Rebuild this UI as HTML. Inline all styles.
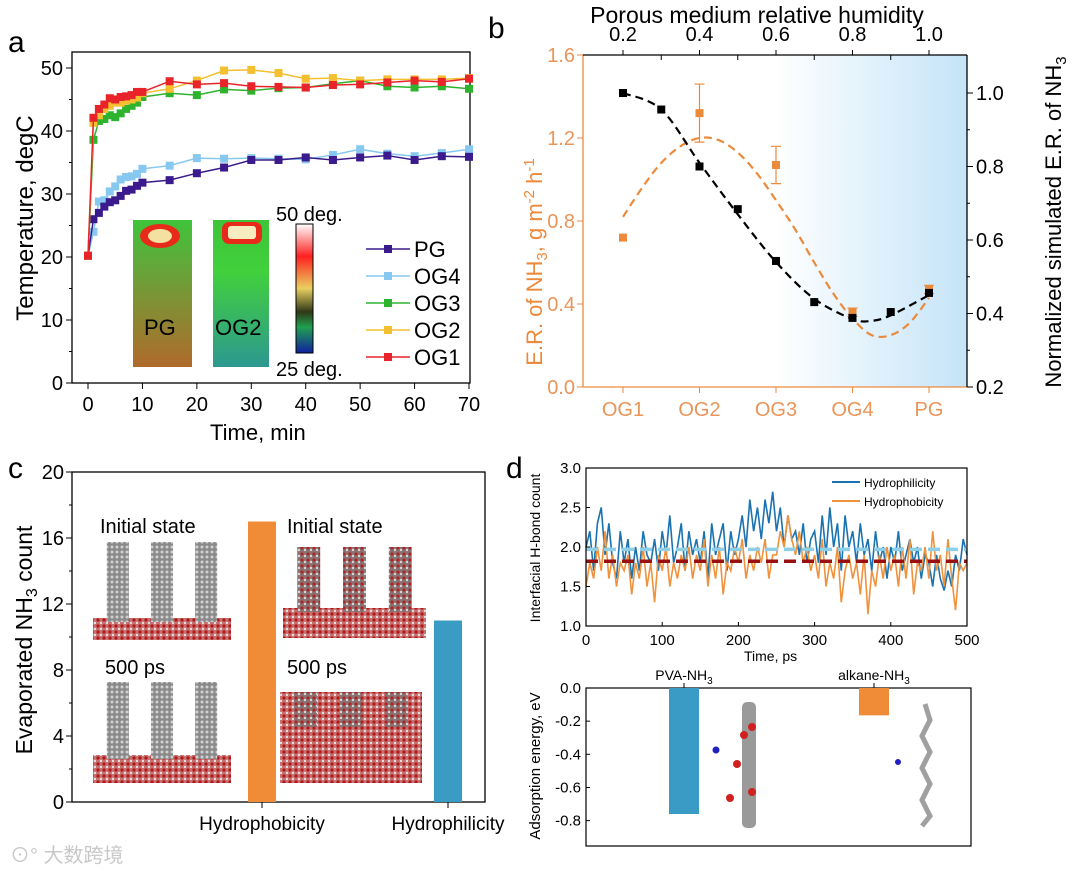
<!DOCTYPE html>
<html><head><meta charset="utf-8">
<style>
html,body{margin:0;padding:0;background:#fff;}
svg{display:block;font-family:"Liberation Sans","Noto Sans CJK SC",sans-serif;}
</style></head>
<body>
<svg id="fig" width="1080" height="874" viewBox="0 0 1080 874" xmlns="http://www.w3.org/2000/svg">
<defs>
<linearGradient id="bgB" x1="0" x2="1" y1="0" y2="0"><stop offset="0.5" stop-color="#ffffff"/><stop offset="1" stop-color="#c4e4f8"/></linearGradient>
<linearGradient id="pgImg" x1="0" x2="0" y1="0" y2="1"><stop offset="0" stop-color="#3ec43a"/><stop offset="0.3" stop-color="#62a83a"/><stop offset="1" stop-color="#b06a2c"/></linearGradient>
<linearGradient id="og2Img" x1="0" x2="0" y1="0" y2="1"><stop offset="0" stop-color="#3ec43a"/><stop offset="0.35" stop-color="#42d03c"/><stop offset="1" stop-color="#2c9890"/></linearGradient>
<linearGradient id="cbar" x1="0" x2="0" y1="0" y2="1"><stop offset="0" stop-color="#ffffff"/><stop offset="0.25" stop-color="#ff2020"/><stop offset="0.5" stop-color="#e8d060"/><stop offset="0.68" stop-color="#303818"/><stop offset="0.8" stop-color="#20a050"/><stop offset="1" stop-color="#1020a0"/></linearGradient>
<pattern id="mol" width="6" height="6" patternUnits="userSpaceOnUse"><rect width="6" height="6" fill="#c87070"/><circle cx="2" cy="2" r="1.6" fill="#b01818"/><circle cx="5" cy="5" r="1.2" fill="#e0e0e0"/></pattern>
<pattern id="gray" width="5" height="5" patternUnits="userSpaceOnUse"><rect width="5" height="5" fill="#8a8a8a"/><circle cx="2" cy="2" r="1.5" fill="#d0d0d0"/></pattern>
<pattern id="mix" width="6" height="6" patternUnits="userSpaceOnUse"><rect width="6" height="6" fill="#8a7070"/><circle cx="2" cy="2" r="1.5" fill="#b02020"/><circle cx="5" cy="4" r="1.2" fill="#d8d8d8"/></pattern>
</defs>
<g id="root"></g>
</svg>
<script>
// ---------- Panel a data ----------
const aTimes=[0,1,2,3,4,5,6,7,8,9,10,15,20,25,30,35,40,45,50,55,60,65,70];
const aPG=[20.2,26,27,28,28.7,29,29.7,30.5,30.7,31.3,31.8,32.2,33.3,34.2,35.4,35.4,35.8,35.4,35.8,36.1,35.4,36,35.9];
const aOG4=[20.2,24,28.8,29,30.4,31.2,32.3,32.7,32.8,33.2,34,34.5,35.7,35.6,35.7,35.6,35.5,36.2,37.1,36.4,36,36.5,37.1];
const aOG3=[20.2,38.6,41.6,41.9,42.5,42.2,42.8,43.5,44,44.5,45.4,46,45.7,46.6,46.4,46.8,46.9,47.5,48,47.1,46.9,47.1,46.7];
const aOG2=[20.2,41.3,42.5,43.5,44,44.5,44.5,44.8,45,45.3,46,46.7,48,49.6,49.7,49.2,48.3,48.4,48,48.2,48.2,48.2,48.4];
const aOG1=[20.2,42.1,43.5,44.2,45.2,45,45.4,45.5,45.7,46.2,46.2,47.9,47.4,47.6,47.1,47,46.9,47.3,47.4,47.7,48,47.8,48.3];
const aYTicks=[0,10,20,30,40,50];
const aXTicks=[0,10,20,30,40,50,60,70];
// ---------- Panel b data ----------
const bCats=["OG1","OG2","OG3","OG4","PG"];
const bER=[0.72,1.32,1.07,0.36,0.47];
const bErr=[0,0.14,0.09,0.02,0.02];
const bRH=[0.2,0.3,0.4,0.5,0.6,0.7,0.8,0.9,1.0];
const bSim=[1.0,0.955,0.80,0.684,0.543,0.431,0.388,0.404,0.456];
const bFitX=[0.2,0.25,0.3,0.35,0.4,0.45,0.5,0.55,0.6,0.65,0.7,0.75,0.8,0.85,0.9,0.95,1.0];
const bFitER=[0.82,0.96,1.08,1.16,1.2,1.19,1.13,1.03,0.9,0.76,0.6,0.45,0.33,0.25,0.25,0.31,0.43];
const bFitSimX=[0.2,0.3,0.4,0.5,0.6,0.7,0.8,0.85,0.9,1.0];
const bFitSim=[1.0,0.955,0.81,0.67,0.54,0.44,0.385,0.38,0.395,0.45];
const bLeftTicks=[0,0.4,0.8,1.2,1.6];
const bRightTicks=[0.2,0.4,0.6,0.8,1.0];
const bTopTicks=[0.2,0.4,0.6,0.8,1.0];
// ---------- Panel c data ----------
const cCats=["Hydrophobicity","Hydrophilicity"];
const cVals=[17,11];
const cTicks=[0,4,8,12,16,20];
// ---------- Panel d data ----------
const dPhil=[2.0,2.2,1.7,2.3,2.5,1.9,2.3,1.8,1.6,2.2, 1.8,2.1,1.6,2.0,1.7,2.2,1.9,1.8,2.1,1.7, 2.2,1.9,2.4,1.8,2.0,2.3,1.7,2.2,1.9,2.1, 1.8,2.2,1.6,2.3,1.9,2.1,2.3,1.7,2.2,1.9, 2.1,2.4,2.0,2.6,2.2,2.5,2.1,2.6,2.3,2.7, 2.2,2.5,2.0,2.4,2.1,2.2,1.9,2.3,1.8,2.1, 2.2,1.8,2.4,1.9,2.5,2.0,2.3,1.7,2.4,2.0, 2.2,1.8,2.3,1.9,2.1,1.7,2.2,1.8,2.0,1.6, 2.0,1.8,2.2,1.7,1.9,2.1,1.8,2.0,1.6,1.9, 1.8,1.5,1.9,1.6,1.45,1.7,1.5,1.9,1.7,2.1, 1.9];
const dPhob=[1.5,1.8,1.6,2.0,1.7,2.2,1.6,1.9,1.5,1.8, 1.7,1.9,1.4,1.8,1.6,2.0,1.5,1.8,1.3,1.9, 1.7,2.0,1.5,1.8,1.6,1.9,1.7,2.0,1.6,1.9, 1.7,2.1,1.5,1.9,1.6,2.0,1.4,1.8,1.7,2.0, 1.8,2.1,1.6,1.9,1.7,2.0,1.8,2.1,1.6,1.9, 1.9,2.2,2.0,2.4,2.1,1.9,2.2,1.8,2.0,1.7, 1.9,1.6,2.1,1.5,1.8,1.6,2.0,1.3,1.7,1.9, 1.6,1.8,1.4,1.9,1.15,1.7,1.5,1.9,1.6,2.0, 1.7,1.9,1.5,2.0,1.6,2.1,1.4,1.8,1.7,2.0, 1.6,2.2,1.7,1.9,1.5,2.1,1.6,1.2,1.8,1.7, 1.8];
const dStep=5;
const dMeanPhil=1.97, dMeanPhob=1.82;
const dXTicks=[0,100,200,300,400,500];
const dYTicks=[1.0,1.5,2.0,2.5,3.0];
const eCats=["PVA-NH3","alkane-NH3"];
const eVals=[-0.76,-0.165];
const eTicks=[0,-0.2,-0.4,-0.6,-0.8];

const NS="http://www.w3.org/2000/svg";
const root=document.getElementById('root');
function el(tag,attrs,parent){const e=document.createElementNS(NS,tag);for(const k in attrs)e.setAttribute(k,attrs[k]);(parent||root).appendChild(e);return e;}
function txt(s,x,y,size,attrs,parent){const t=el('text',Object.assign({x:x,y:y,'font-size':size},attrs||{}),parent);t.textContent=s;return t;}
function lin(d0,d1,r0,r1){return v=>r0+(v-d0)/(d1-d0)*(r1-r0);}
function smooth(pts){let d="M"+pts[0][0]+","+pts[0][1];for(let i=0;i<pts.length-1;i++){const p0=pts[i-1]||pts[i],p1=pts[i],p2=pts[i+1],p3=pts[i+2]||p2;const c1=[p1[0]+(p2[0]-p0[0])/6,p1[1]+(p2[1]-p0[1])/6],c2=[p2[0]-(p3[0]-p1[0])/6,p2[1]-(p3[1]-p1[1])/6];d+=" C"+c1+" "+c2+" "+p2;}return d;}

// ===== Panel a =====
{
const g=el('g',{});


const X=lin(0,70,88,469),Y=lin(0,50,383,68);
const lab=txt('a',8,52,30,{},g);

const i1=el('rect',{x:133,y:220,width:59,height:147,fill:'url(#pgImg)'},g);

el('ellipse',{cx:160,cy:236,rx:20,ry:12,fill:'#e82a1a'},g);
el('ellipse',{cx:160,cy:236,rx:12,ry:7,fill:'#f4e0a0'},g);
txt('PG',144,335,22,{},g);
const i2=el('rect',{x:213,y:220,width:56,height:147,fill:'url(#og2Img)'},g);

el('rect',{x:222,y:222,width:40,height:22,rx:7,fill:'#e82a1a'},g);
el('rect',{x:228,y:226,width:28,height:13,rx:3,fill:'#f6ecc0'},g);
txt('OG2',215,335,22,{},g);
const cb=el('rect',{x:296,y:224,width:17,height:129,fill:'url(#cbar)',stroke:'#000','stroke-width':1},g);

txt('50 deg.',276,221,20,{},g);txt('25 deg.',276,376,20,{},g);
const box=el('rect',{x:72,y:52,width:398,height:331,fill:'none',stroke:'#000','stroke-width':1.3},g);

aYTicks.forEach(v=>{el('line',{x1:72,x2:66,y1:Y(v),y2:Y(v),stroke:'#000'},g);
 const t=txt(String(v),63,Y(v)+7,20,{'text-anchor':'end'},g);});
[5,15,25,35,45].forEach(v=>el('line',{x1:72,x2:69,y1:Y(v),y2:Y(v),stroke:'#000'},g));
aXTicks.forEach(v=>{el('line',{x1:X(v),x2:X(v),y1:383,y2:389,stroke:'#000'},g);
 const t=txt(String(v),X(v),411,20,{'text-anchor':'middle'},g);});
const xt=txt('Time, min',210,440,22,{},g);
const yt=txt('Temperature, degC',0,0,24,{'text-anchor':'middle',transform:'translate(33,218) rotate(-90)'},g);

const series=[['PG',aPG,'#3a1a8c'],['OG4',aOG4,'#86c8ef'],['OG3',aOG3,'#2eb32e'],['OG2',aOG2,'#f4c030'],['OG1',aOG1,'#e8242a']];
[1,0,2,3,4].forEach(si=>{const [n,vals,c]=series[si];
 const sg=el('g',{},g);
 el('polyline',{points:aTimes.map((t,i)=>X(t)+','+Y(vals[i])).join(' '),fill:'none',stroke:c,'stroke-width':1.5},sg);
 aTimes.forEach((t,i)=>{const m=el('rect',{x:X(t)-4,y:Y(vals[i])-4,width:8,height:8,fill:c},sg);});
});
series.forEach(([n,vals,c],i)=>{const y=249+i*27;
 const lg=el('g',{},g);
 el('line',{x1:366,x2:410,y1:y,y2:y,stroke:c,'stroke-width':1.5},lg);
 el('rect',{x:384,y:y-4,width:8,height:8,fill:c},lg);
 txt(n,414,y+8,22,{},lg);});
}

// ===== Panel b =====
{
const g=el('g',{});

const L=583,R=967,T=55,B=387;
const XR=lin(0.2,1.0,623,929),YL=lin(0,1.6,B,T),YR=lin(0.2,1.0,B,93);
const orange='#ec8a3c',oText='#e9955a';
const lab=txt('b',488,38,30,{},g);
const bg=el('rect',{x:L,y:T,width:R-L,height:B-T,fill:'url(#bgB)'},g);
el('line',{x1:L,x2:L,y1:T,y2:B,stroke:orange,'stroke-width':1.3},g);
el('line',{x1:L,x2:R,y1:B,y2:B,stroke:orange,'stroke-width':1.3},g);
el('line',{x1:L,x2:R,y1:T,y2:T,stroke:'#000','stroke-width':1.3},g);
el('line',{x1:R,x2:R,y1:T,y2:B,stroke:'#000','stroke-width':1.3},g);
bLeftTicks.forEach(v=>{el('line',{x1:L,x2:L-6,y1:YL(v),y2:YL(v),stroke:orange},g);
 const t=txt(v.toFixed(1),L-8,YL(v)+7,20,{'text-anchor':'end',fill:oText},g);});
bRightTicks.forEach(v=>{el('line',{x1:R,x2:R+6,y1:YR(v),y2:YR(v),stroke:'#000'},g);
 const t=txt(v.toFixed(1),R+9,YR(v)+7,20,{},g);});
[0.3,0.5,0.7,0.9].forEach(v=>el('line',{x1:R,x2:R+3,y1:YR(v),y2:YR(v),stroke:'#000'},g));
bTopTicks.forEach(v=>{el('line',{x1:XR(v),x2:XR(v),y1:T,y2:T-5,stroke:'#000'},g);
 const t=txt(v.toFixed(1),XR(v),41,20,{'text-anchor':'middle'},g);});
[0.3,0.5,0.7,0.9].forEach(v=>el('line',{x1:XR(v),x2:XR(v),y1:T,y2:T+5,stroke:'#000'},g));
bCats.forEach((c,i)=>{const x=XR(0.2+0.2*i);el('line',{x1:x,x2:x,y1:B,y2:B+6,stroke:orange},g);
 const t=txt(c,x,416,20,{'text-anchor':'middle',fill:oText},g);});
const tt=txt('Porous medium relative humidity',757,23,23,{'text-anchor':'middle'},g);
const ly=el('text',{'font-size':22,fill:orange,'text-anchor':'middle',transform:'translate(542,262) rotate(-90)'},g);
ly.innerHTML='E.R. of NH<tspan font-size="15" dy="5">3</tspan><tspan dy="-5">, g m</tspan><tspan font-size="15" dy="-8">-2</tspan><tspan dy="8"> h</tspan><tspan font-size="15" dy="-8">-1</tspan>';

const ry=el('text',{'font-size':22,'text-anchor':'middle',transform:'translate(1061,222) rotate(-90)'},g);
ry.innerHTML='Normalized simulated E.R. of NH<tspan font-size="15" dy="5">3</tspan>';

const f1=el('path',{d:smooth(bFitX.map((x,i)=>[XR(x),YL(bFitER[i])])),fill:'none',stroke:orange,'stroke-width':2.2,'stroke-dasharray':'8,5'},g);

const f2=el('path',{d:smooth(bFitSimX.map((x,i)=>[XR(x),YR(bFitSim[i])])),fill:'none',stroke:'#000','stroke-width':2.2,'stroke-dasharray':'8,5'},g);

bER.forEach((v,i)=>{const x=XR(0.2+0.2*i);
 if(bErr[i]>0){const e=el('path',{d:`M${x},${YL(v-bErr[i])}V${YL(v+bErr[i])}M${x-5},${YL(v-bErr[i])}h10M${x-5},${YL(v+bErr[i])}h10`,stroke:orange,'stroke-width':1.2,fill:'none'},g);}
 const m=el('rect',{x:x-4,y:YL(v)-4,width:8,height:8,fill:orange},g);});
bRH.forEach((x,i)=>{const m=el('rect',{x:XR(x)-4,y:YR(bSim[i])-4,width:8,height:8,fill:'#000'},g);});
}

// ===== Panel c =====
{
const g=el('g',{});

const L=72,R=485,T=472,B=802;const Y=lin(0,20,B,T);
const catX=[262,448];
const lab=txt('c',8,478,30,{},g);
function snap(x,y,w,h,pillH,baseH,fillP,fillB,name){const s=el('g',{},g);
 el('rect',{x:x,y:y+h-baseH,width:w,height:baseH,fill:fillB},s);
 [0.1,0.42,0.74].forEach(f=>el('rect',{x:x+w*f,y:y,width:w*0.16,height:h-baseH+4,fill:fillP},s));}
snap(93,542,138,98,0,22,'url(#gray)','url(#mol)','snapshot-hydrophobic-initial');
snap(93,682,138,101,0,28,'url(#gray)','url(#mol)','snapshot-hydrophobic-500ps');
snap(283,547,143,91,0,30,'url(#mix)','url(#mol)','snapshot-hydrophilic-initial');
el('rect',{x:280,y:692,width:142,height:91,fill:'url(#mol)'},g);
snap(280,692,142,91,0,60,'url(#mix)','url(#mol)','snapshot-hydrophilic-500ps');
txt('Initial state',100,533,20,{},g);txt('500 ps',105,674,20,{},g);
txt('Initial state',287,533,20,{},g);txt('500 ps',287,674,20,{},g);
el('rect',{x:L,y:T,width:R-L,height:B-T,fill:'none',stroke:'#000','stroke-width':1.3},g);
cTicks.forEach(v=>{el('line',{x1:L,x2:L-6,y1:Y(v),y2:Y(v),stroke:'#000'},g);
 const t=txt(String(v),L-8,Y(v)+7,20,{'text-anchor':'end'},g);});
[2,6,10,14,18].forEach(v=>el('line',{x1:L,x2:L-3,y1:Y(v),y2:Y(v),stroke:'#000'},g));
const cols=['#f08c38','#3a9cc4'];
cVals.forEach((v,i)=>{const b=el('rect',{x:catX[i]-14,y:Y(v),width:28,height:B-Y(v),fill:cols[i]},g);
 
 el('line',{x1:catX[i],x2:catX[i],y1:B,y2:B+6,stroke:'#000'},g);
 const t=txt(cCats[i],catX[i],830,19,{'text-anchor':'middle'},g);});
const yt=el('text',{'font-size':23,'text-anchor':'middle',transform:'translate(32,640) rotate(-90)'},g);
yt.innerHTML='Evaporated NH<tspan font-size="16" dy="5">3</tspan><tspan dy="-5"> count</tspan>';

const wm=txt('⊙° 大数跨境',10,862,20,{fill:'#c8c8c8'},g);
}

// ===== Panel d =====
{
const g=el('g',{});

const L=586,R=967,T=468,B=626;
const X=lin(0,500,L,R),Y=lin(1,3,B,T);
const lab=txt('d',506,478,30,{},g);
const ph=el('polyline',{points:dPhil.map((v,i)=>X(i*dStep)+','+Y(v)).join(' '),fill:'none',stroke:'#1a73b0','stroke-width':1.6},g);

const pb=el('polyline',{points:dPhob.map((v,i)=>X(i*dStep)+','+Y(v)).join(' '),fill:'none',stroke:'#f0923c','stroke-width':1.6},g);

const m1=el('line',{x1:L,x2:R,y1:Y(dMeanPhil),y2:Y(dMeanPhil),stroke:'#8ecfe8','stroke-width':3.5,'stroke-dasharray':'12,6'},g);

const m2=el('line',{x1:L,x2:R,y1:Y(dMeanPhob),y2:Y(dMeanPhob),stroke:'#9a1010','stroke-width':3.5,'stroke-dasharray':'12,6'},g);

el('rect',{x:L,y:T,width:R-L,height:B-T,fill:'none',stroke:'#000','stroke-width':1.2},g);
dXTicks.forEach(v=>{el('line',{x1:X(v),x2:X(v),y1:B,y2:B-4,stroke:'#000'},g);
 const t=txt(String(v),X(v),645,15,{'text-anchor':'middle'},g);});
dYTicks.forEach(v=>{el('line',{x1:L,x2:L+4,y1:Y(v),y2:Y(v),stroke:'#000'},g);
 const t=txt(v.toFixed(1),L-5,Y(v)+5,15,{'text-anchor':'end'},g);});
txt('Time, ps',744,661,14,{},g);
const yt=txt('Interfacial H-bond count',0,0,14,{'text-anchor':'middle',transform:'translate(540,548) rotate(-90)'},g);

const l1=el('g',{},g);
el('line',{x1:832,x2:860,y1:482,y2:482,stroke:'#1a73b0','stroke-width':2},l1);txt('Hydrophilicity',864,487,12,{},l1);
const l2=el('g',{},g);
el('line',{x1:832,x2:860,y1:501,y2:501,stroke:'#f0923c','stroke-width':2},l2);txt('Hydrophobicity',864,506,12,{},l2);

const T2=688,B2=846;const Y2=lin(0,-0.953,T2,B2);const ex=[684,874];const ecol=['#3a9cc4','#f08c38'];
el('rect',{x:L,y:T2,width:971-L,height:B2-T2,fill:'none',stroke:'#000','stroke-width':1.2},g);
eTicks.forEach(v=>{el('line',{x1:L,x2:L+4,y1:Y2(v),y2:Y2(v),stroke:'#000'},g);
 const t=txt(v.toFixed(1),L-5,Y2(v)+5,15,{'text-anchor':'end'},g);});
eVals.forEach((v,i)=>{const b=el('rect',{x:ex[i]-15,y:T2,width:30,height:Y2(v)-T2,fill:ecol[i]},g);
 
 el('line',{x1:ex[i],x2:ex[i],y1:T2,y2:T2-5,stroke:'#000'},g);
 const t=el('text',{x:ex[i],y:680,'font-size':14,'text-anchor':'middle'},g);
 t.innerHTML=eCats[i].replace('NH3','NH<tspan font-size="10" dy="4">3</tspan>');
 });
const mol1=el('g',{},g);
el('rect',{x:742,y:702,width:14,height:126,rx:5,fill:'#9a9a9a'},mol1);
[[752,727],[737,764],[752,792],[730,798],[744,735]].forEach(p=>el('circle',{cx:p[0],cy:p[1],r:4,fill:'#d02020'},mol1));
el('circle',{cx:716,cy:750,r:3.5,fill:'#2020c0'},mol1);
const mol2=el('g',{},g);
el('path',{d:'M925,704 L930,720 L922,736 L930,752 L922,768 L930,784 L922,800 L930,816 L922,826',stroke:'#a0a0a0','stroke-width':5,fill:'none'},mol2);
el('circle',{cx:898,cy:762,r:3,fill:'#2020c0'},mol2);
const yt2=txt('Adsorption energy, eV',0,0,15,{'text-anchor':'middle',transform:'translate(540,766) rotate(-90)'},g);

}
</script>
</body></html>
